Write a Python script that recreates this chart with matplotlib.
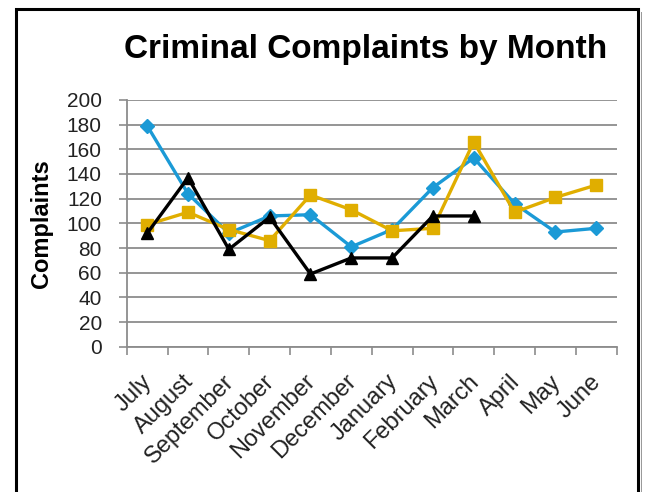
import matplotlib
matplotlib.use("Agg")
import matplotlib.pyplot as plt
from matplotlib.patches import Rectangle
from matplotlib.transforms import ScaledTranslation
import numpy as np

months = ["July", "August", "September", "October", "November", "December",
          "January", "February", "March", "April", "May", "June"]
blue_series = [179, 124, 92, 106, 107, 81, 95, 129, 153, 116, 93, 96]
gold_series = [99, 109, 95, 86, 123, 111, 94, 96, 166, 109, 121, 131]
black_series = [92, 137, 79, 105, 59, 72, 72, 106, 106]
yticks = list(range(0, 201, 20))

plt.rcParams['font.family'] = ['Liberation Sans', 'DejaVu Sans']

fig = plt.figure(figsize=(6.47, 4.92), dpi=100)
ax = fig.add_axes([0.196, 0.295, 0.757, 0.502])

x = np.arange(len(months))
ax.plot(x, blue_series, color='#1b9ad6', lw=2.4, marker='D', ms=7, zorder=3)
ax.plot(x, gold_series, color='#e0ae00', lw=2.4, marker='s', ms=9, zorder=3)
ax.plot(x[:len(black_series)], black_series, color='black', lw=2.4, marker='^', ms=9, zorder=4)

ax.set_xlim(-0.5, len(months) - 0.5)
ax.set_ylim(0, 200)
ax.set_yticks(yticks)
ax.set_yticklabels([str(v) for v in yticks], fontsize=15, color='#222222')
ax.yaxis.grid(True, color='#8c8c8c', lw=1.3)
ax.set_axisbelow(True)

ax.set_xticks(x)
ax.set_xticklabels(months, rotation=45, ha='right', va='top', rotation_mode='anchor',
                   fontsize=17, color='#222222')
ax.tick_params(axis='x', which='major', length=0, pad=17)
ax.set_xticks(np.arange(-0.5, len(months)), minor=True)
ax.tick_params(axis='x', which='minor', length=6, color='#8c8c8c', width=1.2)
ax.tick_params(axis='y', length=6, color='#8c8c8c', width=1.2, pad=12)
shift = ScaledTranslation(-6/100, 0, fig.dpi_scale_trans)
for lbl in ax.get_xticklabels():
    lbl.set_transform(lbl.get_transform() + shift)

for s in ['top', 'right']:
    ax.spines[s].set_visible(False)
for s in ['left', 'bottom']:
    ax.spines[s].set_color('#8c8c8c')
    ax.spines[s].set_linewidth(1.3)

ax.set_ylabel("Complaints", fontsize=17, fontweight='bold')
ax.yaxis.set_label_coords(-0.150, 0.5)
fig.text(0.565, 0.9, "Criminal Complaints by Month", ha='center', va='center',
         fontsize=24, fontweight='bold')

fig.patches.append(Rectangle((16/647, -0.1), (638-16)/647, 1.1 - 9/492, transform=fig.transFigure,
                             fill=False, edgecolor='black', lw=2.2))
fig.patches.append(Rectangle((641/647, -0.1), 0.002, 1.1 - 12/492, transform=fig.transFigure,
                             fill=True, facecolor='#9a9a9a', edgecolor='none'))

fig.savefig("out.png", dpi=100)
